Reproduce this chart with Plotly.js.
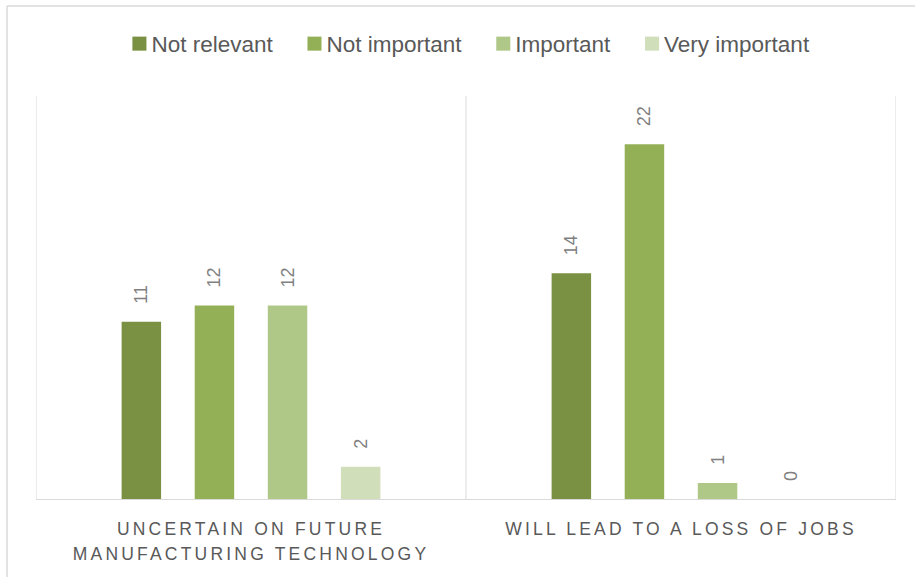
<!DOCTYPE html>
<html>
<head>
<meta charset="utf-8">
<script src="https://cdn.plot.ly/plotly-3.0.1.min.js"></script>
<style>
html,body{margin:0;padding:0;background:#fff;}
#chart{width:915px;height:577px;}
</style>
</head>
<body>
<div id="chart"></div>
<script>
const categories = ["UNCERTAIN ON FUTURE<br>MANUFACTURING TECHNOLOGY", "WILL LEAD TO A LOSS OF JOBS"];
const seriesNames = ["Not relevant", "Not important", "Important", "Very important"];
const notRelevant = [11, 14];
const notImportant = [12, 22];
const important = [12, 1];
const veryImportant = [2, 0];
const seriesValues = [notRelevant, notImportant, important, veryImportant];
const colors = ["#7a9143", "#94b056", "#afc787", "#d0deba"];

const FONT = "'Liberation Sans', Arial, sans-serif";

const traces = seriesNames.map((name, i) => ({
  type: 'bar',
  name: name,
  x: [0, 1],
  y: seriesValues[i],
  marker: {color: colors[i]},
  text: seriesValues[i].map(v => String(v)),
  texttemplate: '\u00a0\u00a0\u00a0%{text}',
  textposition: 'outside',
  textangle: -90,
  cliponaxis: false,
  textfont: {family: FONT, size: 18, color: '#808080'},
  hoverinfo: 'none'
}));

const layout = {
  width: 915, height: 577,
  margin: {l: 36, r: 19, t: 96, b: 78},
  paper_bgcolor: '#ffffff', plot_bgcolor: '#ffffff',
  barmode: 'group',
  bargap: 0.32,
  bargroupgap: 0.46,
  showlegend: true,
  legend: {
    orientation: 'h', x: 0.497, xanchor: 'center', y: 1.129, yanchor: 'middle',
    font: {family: FONT, size: 22.5, color: '#595959'},
    traceorder: 'normal', itemclick: false
  },
  xaxis: {
    type: 'linear',
    range: [-0.5, 1.5],
    tickmode: 'array',
    tickvals: [0, 1],
    ticktext: categories,
    showgrid: false, zeroline: false,
    showline: true, linecolor: '#d9d9d9', linewidth: 1,
    ticks: '',
    ticklabelstandoff: 14,
    tickfont: {family: FONT, size: 17.5, color: '#595959'},
    fixedrange: true
  },
  yaxis: {
    range: [0, 25],
    showgrid: false, zeroline: false, showline: false,
    showticklabels: false, ticks: '',
    fixedrange: true
  },
  shapes: [
    {type: 'line', xref: 'x', yref: 'paper', x0: -0.5, x1: -0.5, y0: 0, y1: 1, line: {color: '#d9d9d9', width: 1}},
    {type: 'line', xref: 'x', yref: 'paper', x0: 0.5, x1: 0.5, y0: 0, y1: 1, line: {color: '#d9d9d9', width: 1}},
    {type: 'line', xref: 'x', yref: 'paper', x0: 1.5, x1: 1.5, y0: 0, y1: 1, line: {color: '#d9d9d9', width: 1}},
    {type: 'line', xref: 'paper', yref: 'paper', x0: -0.0337, x1: -0.0337, y0: 1.2233, y1: -0.2, line: {color: '#d9d9d9', width: 1.5}},
    {type: 'line', xref: 'paper', yref: 'paper', x0: -0.0337, x1: 1.03, y0: 1.2233, y1: 1.2233, line: {color: '#d9d9d9', width: 1.5}}
  ]
};

Plotly.newPlot('chart', traces, layout, {displayModeBar: false, staticPlot: true}).then(gd => {
  gd.querySelectorAll('.xtick text').forEach(t => {
    t.style.letterSpacing = '3.2px';
    t.querySelectorAll('tspan.line').forEach((ts, k) => {
      if (k > 0) ts.setAttribute('dy', '1.42em');
    });
  });
  // legend: larger square closer to its text, slightly wider item spacing
  gd.querySelectorAll('.legend [clip-path]').forEach(e => e.removeAttribute('clip-path'));
  const items = gd.querySelectorAll('.legend .traces');
  const extra = 8;
  const shiftAll = -extra * (items.length - 1) / 2;
  items.forEach((g, i) => {
    const pts = g.querySelector('.legendpoints');
    if (pts) pts.setAttribute('transform', 'translate(4.6,0) scale(1.17)');
    const tr = g.getAttribute('transform') || '';
    const m = tr.match(/translate\(\s*([-\d.]+)[ ,]+([-\d.]+)\s*\)/);
    if (m) {
      const nx = parseFloat(m[1]) + i * extra + shiftAll;
      g.setAttribute('transform', 'translate(' + nx + ',' + m[2] + ')');
    }
  });
});
</script>
</body>
</html>
